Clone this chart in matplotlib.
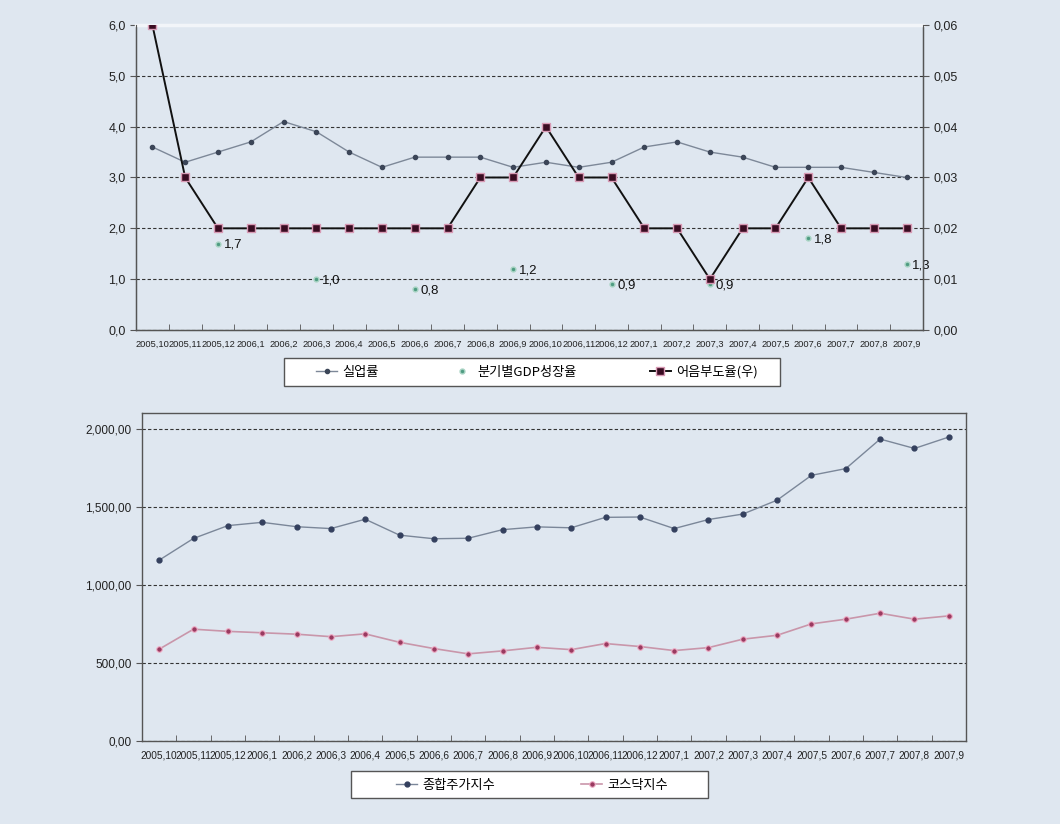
import matplotlib
matplotlib.use("Agg")
import matplotlib.pyplot as plt
from matplotlib.patches import Rectangle
from matplotlib.ticker import FixedLocator, FuncFormatter

# 월별 범주
months = ["2005,10", "2005,11", "2005,12", "2006,1", "2006,2", "2006,3", "2006,4",
          "2006,5", "2006,6", "2006,7", "2006,8", "2006,9", "2006,10", "2006,11",
          "2006,12", "2007,1", "2007,2", "2007,3", "2007,4", "2007,5", "2007,6",
          "2007,7", "2007,8", "2007,9"]

# 실업률 (좌축)
unemployment = [3.6, 3.3, 3.5, 3.7, 4.1, 3.9, 3.5, 3.2, 3.4, 3.4, 3.4, 3.2,
                3.3, 3.2, 3.3, 3.6, 3.7, 3.5, 3.4, 3.2, 3.2, 3.2, 3.1, 3.0]

# 분기별 GDP 성장율 (분기 말월에만 값)
gdp_idx = [2, 5, 8, 11, 14, 17, 20, 23]
gdp_growth = [1.7, 1.0, 0.8, 1.2, 0.9, 0.9, 1.8, 1.3]

# 어음부도율 (우축)
dishonor = [0.06, 0.03, 0.02, 0.02, 0.02, 0.02, 0.02, 0.02, 0.02, 0.02, 0.03, 0.03,
            0.04, 0.03, 0.03, 0.02, 0.02, 0.01, 0.02, 0.02, 0.03, 0.02, 0.02, 0.02]

# 종합주가지수 / 코스닥지수
kospi = [1158, 1297, 1379, 1400, 1372, 1360, 1420, 1318, 1295, 1298, 1353, 1371,
         1365, 1432, 1434, 1360, 1418, 1453, 1542, 1701, 1744, 1933, 1873, 1946]
kosdaq = [588, 716, 702, 693, 684, 668, 686, 632, 592, 558, 577, 600,
          585, 624, 605, 579, 598, 652, 677, 750, 780, 818, 780, 801]

BG = "#dfe7f0"
NUM_FONT = ["Liberation Sans", "DejaVu Sans"]
KR_FONT = ["Noto Sans CJK KR", "DejaVu Sans"]

plt.rcParams["font.family"] = KR_FONT
plt.rcParams["axes.unicode_minus"] = False

fig = plt.figure(figsize=(10.6, 8.24), dpi=100)
fig.patch.set_facecolor(BG)

x = list(range(len(months)))


def comma_fmt(decimals):
    return FuncFormatter(lambda v, p: f"{v:,.{decimals}f}".replace(",", "\x00")
                         .replace(".", ",").replace("\x00", ","))


def style_xaxis(ax, size):
    ax.set_xlim(-0.5, len(months) - 0.5)
    ax.set_xticks(x)
    ax.set_xticklabels(months, fontfamily=NUM_FONT, fontsize=size, color="#222222")
    ax.xaxis.set_minor_locator(FixedLocator([i + 0.5 for i in range(-1, len(months))]))
    ax.tick_params(axis="x", which="major", length=0, pad=7)
    ax.tick_params(axis="x", which="minor", direction="in", length=4, color="#555555")


def style_yaxis(ax, size):
    for lbl in ax.get_yticklabels():
        lbl.set_fontfamily(NUM_FONT)
    ax.tick_params(axis="y", labelsize=size, length=4, color="#555555",
                   labelcolor="#222222")


# ---------- 위 그래프: 실업률 / GDP / 어음부도율 ----------
ax1 = fig.add_axes([0.1283, 0.5995, 0.7425, 0.3702])
ax1.set_facecolor(BG)
ax1.set_ylim(0, 6)
ax1.set_yticks([0, 1, 2, 3, 4, 5, 6])
ax1.yaxis.set_major_formatter(comma_fmt(1))
style_yaxis(ax1, 9)
ax1.grid(axis="y", linestyle=(0, (3, 2)), color="#333333", linewidth=0.8)
ax1.set_axisbelow(True)
style_xaxis(ax1, 6.7)
for side in ["left", "bottom", "right"]:
    ax1.spines[side].set_color("#555555")
    ax1.spines[side].set_linewidth(1.0)
ax1.spines["top"].set_color("#f2f5f9")
ax1.spines["top"].set_linewidth(2.5)

l_unemp, = ax1.plot(x, unemployment, color="#7d8898", linewidth=1.0,
                    marker="o", markersize=3, markerfacecolor="#3c4658",
                    markeredgecolor="#3c4658", zorder=3)
l_gdp, = ax1.plot(gdp_idx, gdp_growth, linestyle="none", marker="o", markersize=3.5,
                  markerfacecolor="#4f9c82", markeredgecolor="#a9d4c4", zorder=4)
for i, v in zip(gdp_idx, gdp_growth):
    ax1.annotate(f"{v:.1f}".replace(".", ","), (i, v), xytext=(4, -1),
                 textcoords="offset points", va="center", ha="left",
                 fontsize=9.5, fontfamily=NUM_FONT, color="#111111", zorder=5)

ax2 = ax1.twinx()
ax2.set_ylim(0, 0.06)
ax2.set_yticks([0, 0.01, 0.02, 0.03, 0.04, 0.05, 0.06])
ax2.yaxis.set_major_formatter(comma_fmt(2))
style_yaxis(ax2, 9)
for side in ["left", "bottom", "right"]:
    ax2.spines[side].set_color("#555555")
ax2.spines["top"].set_visible(False)
l_dish, = ax2.plot(x, dishonor, color="#111111", linewidth=1.4, marker="s",
                   markersize=5.5, markerfacecolor="#3a0c22",
                   markeredgecolor="#d89ab4", markeredgewidth=1.0, zorder=5)

# 범례 상자
fig.patches.append(Rectangle((284 / 1060, 1 - 386 / 824), 496 / 1060, 28 / 824,
                             transform=fig.transFigure, facecolor="white",
                             edgecolor="#555555", linewidth=1.0, zorder=1))
fig.legend([l_unemp, l_gdp, l_dish], ["실업률", "분기별GDP성장율", "어음부도율(우)"],
           loc="center", bbox_to_anchor=(537 / 1060, 1 - 372 / 824), ncol=3,
           frameon=False, fontsize=9.5, handlelength=1.6, handletextpad=0.4,
           columnspacing=5.5)

# ---------- 아래 그래프: 종합주가지수 / 코스닥지수 ----------
ax3 = fig.add_axes([0.134, 0.1007, 0.7773, 0.3981])
ax3.set_facecolor(BG)
ax3.set_ylim(0, 2100)
ax3.set_yticks([0, 500, 1000, 1500, 2000])
ax3.yaxis.set_major_formatter(comma_fmt(2))
style_yaxis(ax3, 8.5)
ax3.grid(axis="y", linestyle=(0, (3, 2)), color="#333333", linewidth=0.8)
ax3.set_axisbelow(True)
style_xaxis(ax3, 7.3)
for side in ["left", "bottom", "right", "top"]:
    ax3.spines[side].set_color("#555555")
    ax3.spines[side].set_linewidth(1.0)

l_kospi, = ax3.plot(x, kospi, color="#7b8799", linewidth=1.0, marker="o",
                    markersize=3.5, markerfacecolor="#34405e",
                    markeredgecolor="#34405e", zorder=3)
l_kosdaq, = ax3.plot(x, kosdaq, color="#c996aa", linewidth=1.2, marker="o",
                     markersize=4, markerfacecolor="#9a3a60",
                     markeredgecolor="#f0b0c8", markeredgewidth=0.8, zorder=3)

fig.patches.append(Rectangle((351 / 1060, 1 - 798 / 824), 357 / 1060, 27 / 824,
                             transform=fig.transFigure, facecolor="white",
                             edgecolor="#555555", linewidth=1.0, zorder=1))
fig.legend([l_kospi, l_kosdaq], ["종합주가지수", "코스닥지수"],
           loc="center", bbox_to_anchor=(532 / 1060, 1 - 785 / 824), ncol=2,
           frameon=False, fontsize=9.5, handlelength=1.6, handletextpad=0.4,
           columnspacing=6.5)

fig.savefig("out.png", dpi=100, facecolor=BG)
